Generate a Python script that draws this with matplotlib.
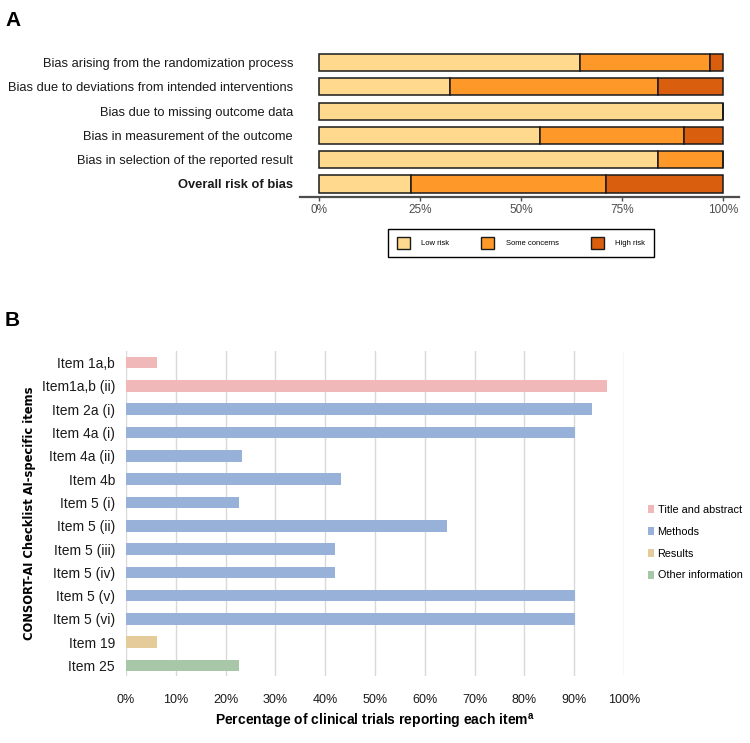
import numpy as np
import matplotlib.pyplot as plt
from matplotlib.patches import Patch

# Panel A: risk of bias (31 trials)
domains = ["Bias arising from the randomization process",
           "Bias due to deviations from intended interventions",
           "Bias due to missing outcome data",
           "Bias in measurement of the outcome",
           "Bias in selection of the reported result",
           "Overall risk of bias"]
low_risk = [64.5, 32.3, 100.0, 54.8, 83.9, 22.6]
some_concerns = [32.3, 51.6, 0.0, 35.5, 16.1, 48.4]
high_risk = [3.2, 16.1, 0.0, 9.7, 0.0, 29.0]
rob_labels = ["Low risk", "Some concerns", "High risk"]
rob_colors = ["#fed98e", "#fe9929", "#d95f0e"]

# Panel B: CONSORT-AI items
items = ["Item 1a,b", "Item1a,b (ii)", "Item 2a (i)", "Item 4a (i)", "Item 4a (ii)",
         "Item 4b", "Item 5 (i)", "Item 5 (ii)", "Item 5 (iii)", "Item 5 (iv)",
         "Item 5 (v)", "Item 5 (vi)", "Item 19", "Item 25"]
pct = [6.3, 96.6, 93.5, 90.2, 23.2, 43.2, 22.6, 64.5, 41.9, 41.9, 90.2, 90.2, 6.3, 22.6]
section = ["Title and abstract", "Title and abstract", "Methods", "Methods", "Methods",
           "Methods", "Methods", "Methods", "Methods", "Methods", "Methods", "Methods",
           "Results", "Other information"]
sections = ["Title and abstract", "Methods", "Results", "Other information"]
sec_colors = {"Title and abstract": "#f0b8b8", "Methods": "#97b1d8",
              "Results": "#e5cb9a", "Other information": "#a8c6a8"}

W, H = 750, 743
fig = plt.figure(figsize=(7.5, 7.43), dpi=100)


def box(x0, y0, x1, y1):
    return [x0 / W, 1 - y1 / H, (x1 - x0) / W, (y1 - y0) / H]


# ---- panel A
axA = fig.add_axes(box(300, 50.2, 739, 197.3))
y = np.arange(len(domains))
left = np.zeros(len(domains))
for vals, c in zip([low_risk, some_concerns, high_risk], rob_colors):
    vals = np.array(vals)
    axA.barh(y, vals, left=left, height=0.7, color=c, edgecolor="#1a1a1a", linewidth=1.1)
    left += vals
axA.set_xlim(-4.8, 104)
axA.set_ylim(5.547, -0.5)
axA.set_yticks(y)
axA.set_yticklabels(domains, fontsize=9.3, color="#1a1a1a", family="Liberation Sans")
axA.get_yticklabels()[-1].set_fontweight("bold")
axA.tick_params(axis="y", length=0, pad=5)
axA.set_xticks([0, 25, 50, 75, 100])
axA.set_xticklabels(["0%", "25%", "50%", "75%", "100%"], fontsize=8.5,
                    color="#4d4d4d", family="Liberation Sans")
axA.tick_params(axis="x", length=3, width=1, color="#4d4d4d", pad=2)
for s in ["top", "right", "left"]:
    axA.spines[s].set_visible(False)
axA.spines["bottom"].set_linewidth(1.6)
axA.spines["bottom"].set_color("#4d4d4d")

handles = [Patch(facecolor=c, edgecolor="#1a1a1a", linewidth=1) for c in rob_colors]
fig.legend(handles, rob_labels, loc="center", bbox_to_anchor=(521 / W, 1 - 243 / H),
           ncol=3, frameon=True, fancybox=False, edgecolor="black",
           framealpha=1, handlelength=1.7, handleheight=2.0, handletextpad=1.5,
           columnspacing=4.2, borderpad=1.1, prop={"family": "Liberation Sans", "size": 5.5})

fig.text(5 / W, 1 - 20 / H, "A", fontsize=15, fontweight="bold", va="center",
         family="Liberation Sans")

# ---- panel B
axB = fig.add_axes(box(126, 351, 624, 676))
yb = np.arange(len(items))
axB.barh(yb, pct, height=0.5, color=[sec_colors[s] for s in section], zorder=2)
axB.set_xlim(0, 100)
axB.set_ylim(13.45, -0.5)
axB.set_xticks(np.arange(0, 101, 10))
axB.set_xticklabels([f"{v}%" for v in range(0, 101, 10)], fontsize=9, color="#1a1a1a",
                    family="Liberation Sans")
axB.set_yticks(yb)
axB.set_yticklabels(items, fontsize=10, color="#1a1a1a", family="Liberation Sans")
axB.tick_params(axis="both", length=0)
axB.tick_params(axis="x", pad=13)
axB.tick_params(axis="y", pad=8)
axB.grid(axis="x", color="#d9d9d9", linewidth=1, zorder=0)
for s in axB.spines.values():
    s.set_visible(False)
axB.set_xlabel("Percentage of clinical trials reporting each item$^{\\mathregular{a}}$",
               fontsize=10, fontweight="bold", family="Liberation Sans", labelpad=4)
axB.set_ylabel("CONSORT-AI Checklist AI-specific items", fontsize=8.3,
               fontweight="bold", family="DejaVu Sans", labelpad=4)

handlesB = [Patch(facecolor=sec_colors[s], edgecolor="none") for s in sections]
fig.legend(handlesB, sections, loc="upper left", bbox_to_anchor=(638 / W, 1 - 495 / H),
           frameon=False, handlelength=0.6, handleheight=0.7, handletextpad=0.3,
           labelspacing=1.1, prop={"family": "Liberation Sans", "size": 7.8})

fig.text(5 / W, 1 - 321 / H, "B", fontsize=15, fontweight="bold", va="center",
         family="Liberation Sans")

fig.savefig("out.png", dpi=100)
